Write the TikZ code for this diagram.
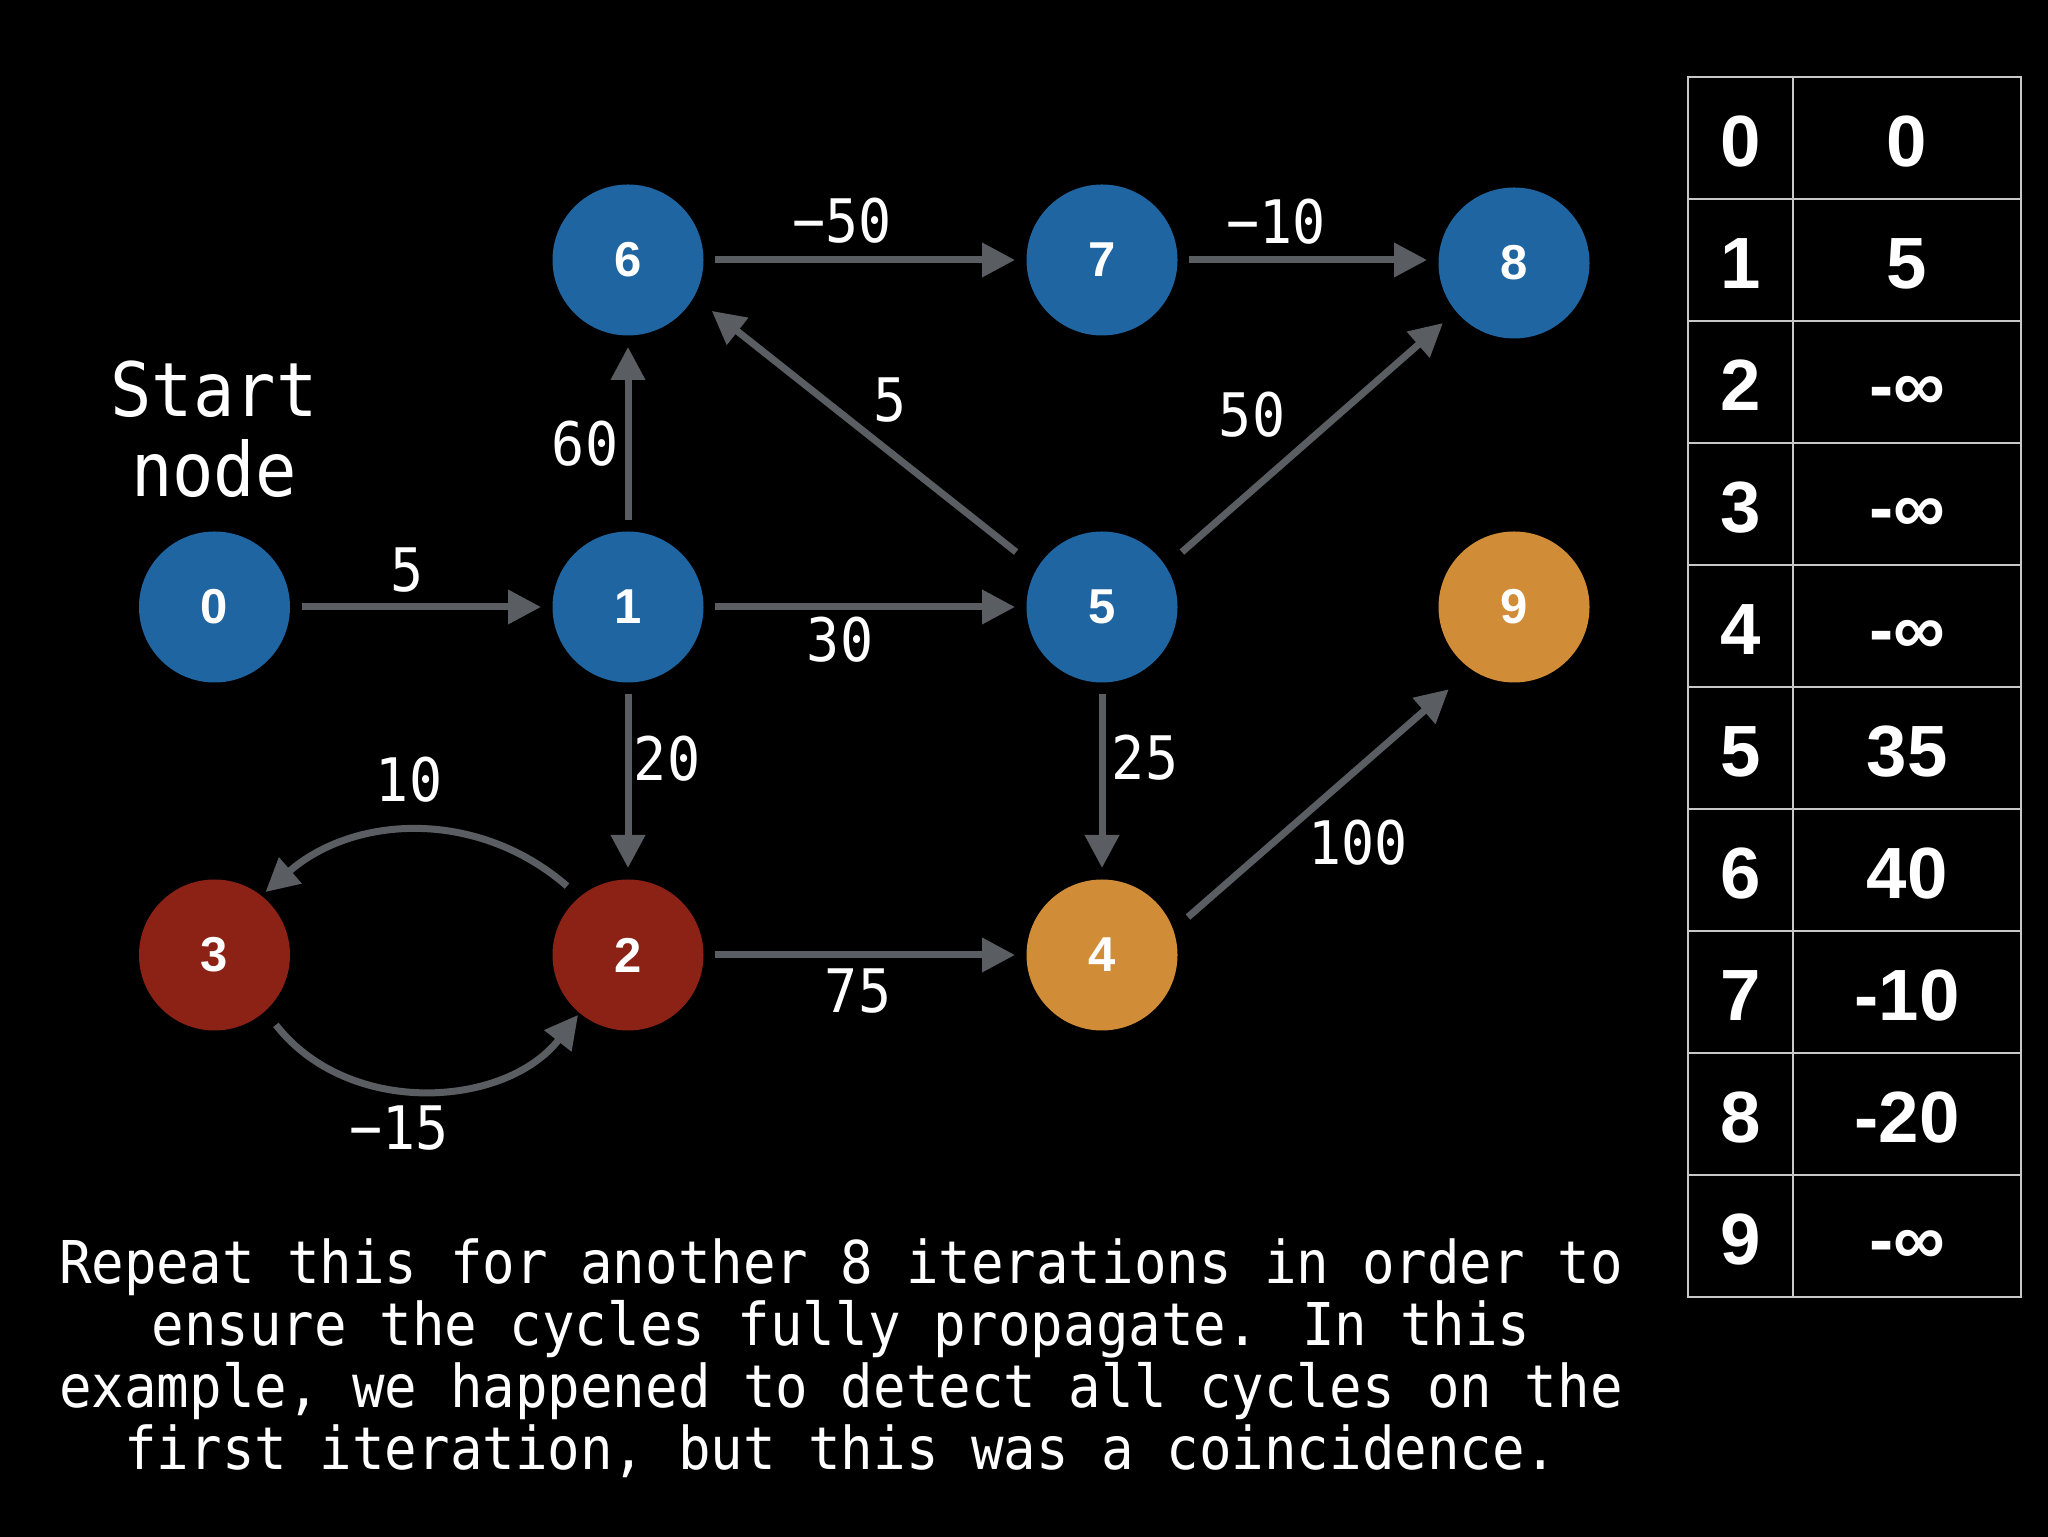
\documentclass[tikz,border=0pt]{standalone}
\usepackage{fontspec}
\usetikzlibrary{arrows.meta,calc}
\newfontfamily\monof[FakeStretch=0.917]{DejaVu Sans Mono}
\newfontfamily\helv{Liberation Sans}
\definecolor{nblue}{HTML}{1F65A1}
\definecolor{nred}{HTML}{8C2116}
\definecolor{norange}{HTML}{D08C37}
\definecolor{egray}{HTML}{5A5E63}
\definecolor{tgray}{HTML}{C8C8C8}
\begin{document}
\begin{tikzpicture}[x=0.5pt,y=0.5pt,
  vert/.style={circle, minimum size=75.5pt, inner sep=0pt, outer sep=0pt, text=white,
    font=\helv\bfseries\fontsize{24.5}{28}\selectfont},
  bluev/.style={vert, fill=nblue},
  redv/.style={vert, fill=nred},
  orangev/.style={vert, fill=norange},
  edge/.style={draw=egray, line width=3.5pt, -{Triangle[length=16.5pt,width=16.5pt]}},
  elabel/.style={text=white, inner sep=0pt, font=\monof\fontsize{30}{36}\selectfont},
  cell/.style={text=white, inner sep=0pt, anchor=base, font=\helv\bfseries\fontsize{36.3}{40}\selectfont},
  grid/.style={draw=tgray, line width=1.3pt}
]
\useasboundingbox (0,0) rectangle (2048,1536);
\fill[black] (-10,-10) rectangle (2058,1546);

% vertices
\node[bluev] (n0) at (214.5,929) {0};
\node[bluev] (n1) at (628,929) {1};
\node[bluev] (n5) at (1102,929) {5};
\node[orangev] (n9) at (1514,929) {9};
\node[bluev] (n6) at (628,1276) {6};
\node[bluev] (n7) at (1102,1276) {7};
\node[bluev] (n8) at (1514,1273) {8};
\node[redv] (n3) at (214.5,581) {3};
\node[redv] (n2) at (628,581) {2};
\node[orangev] (n4) at (1102,581) {4};

% start label
\node[text=white, inner sep=0pt, align=center, font=\monof\fontsize{37.5}{40}\selectfont] (start) at (214,1107) {Start\\node};

% edges
\coordinate (e8) at ($(n8)+(180:87)$);
\draw[edge] ($(n0)+(0:87)$) -- ($(n1)+(180:87)$);
\draw[edge] ($(n1)+(0:87)$) -- ($(n5)+(180:87)$);
\draw[edge] ($(n6)+(0:87)$) -- ($(n7)+(180:87)$);
\draw[edge] ($(n7)+(0:87)$) -- (e8 |- n7);
\draw[edge] ($(n2)+(0:87)$) -- ($(n4)+(180:87)$);
\draw[edge] ($(n1)+(90:87)$) -- ($(n6)+(270:87)$);
\draw[edge] ($(n1)+(270:87)$) -- ($(n2)+(90:87)$);
\draw[edge] ($(n5)+(270:87)$) -- ($(n4)+(90:87)$);
\draw[edge] ($(n5)+(147.4:102)$) -- ($(n6)+(-31.3:98)$);
\draw[edge] ($(n5)+(34.5:97)$) -- ($(n8)+(220.2:93)$);
\draw[edge] ($(n4)+(23.8:94)$) -- ($(n9)+(231.6:105)$);
\draw[edge] ($(n2)+(131.5:92)$) to[out=139,in=41] ($(n3)+(51:81)$);
\draw[edge] ($(n3)+(-48.7:93)$) to[out=-52,in=232] ($(n2)+(230.2:78)$);

% edge labels
\node[elabel] (l01) at (407,966) {5};
\node[elabel] (l15) at (840,896) {30};
\node[elabel] (l16) at (585,1092) {60};
\node[elabel] (l67) at (842,1315) {−50};
\node[elabel] (l56) at (890,1136) {5};
\node[elabel] (l78) at (1276,1314) {−10};
\node[elabel] (l58) at (1252,1121) {50};
\node[elabel] (l12) at (667,777) {20};
\node[elabel] (l54) at (1145,778) {25};
\node[elabel] (l24) at (858,545) {75};
\node[elabel] (l49) at (1358,693) {100};
\node[elabel] (l23) at (409,756) {10};
\node[elabel] (l32) at (399,408) {−15};

% table
\draw[grid] (1688,1459) rectangle (2021,239);
\draw[grid] (1793,1459) -- (1793,239);
\foreach \k in {1,...,9} {
  \draw[grid] (1688,{1459-122*\k}) -- (2021,{1459-122*\k});
}
\foreach \i/\v in {0/0,1/5,2/-∞,3/-∞,4/-∞,5/35,6/40,7/-10,8/-20,9/-∞} {
  \node[cell] (ta\i) at (1740.5,{1536-167-122*\i}) {\i};
  \node[cell] (tb\i) at (1907,{1536-167-122*\i}) {\v};
}

% caption
\node[text=white, inner sep=0pt, align=center, font=\monof\fontsize{29.5}{31}\selectfont] (caption) at (841,178)
{Repeat this for another 8 iterations in order to\\
ensure the cycles fully propagate. In this\\
example, we happened to detect all cycles on the\\
first iteration, but this was a coincidence.};
\end{tikzpicture}
\end{document}
